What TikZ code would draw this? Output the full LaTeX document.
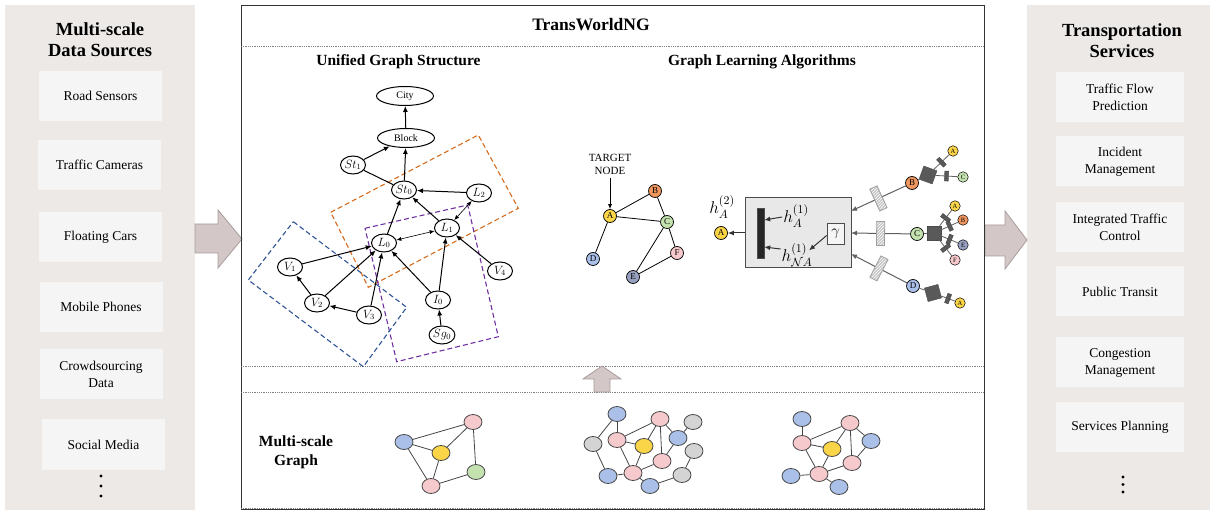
\RequirePackage{fix-cm}
\documentclass[tikz,border=0pt]{standalone}
\usepackage{fontspec}
\setmainfont{Liberation Serif}
\usepackage{amsmath}
\usetikzlibrary{shapes.geometric,arrows.meta,patterns}

\definecolor{panelgray}{RGB}{236,233,231}
\definecolor{boxgray}{RGB}{246,245,245}
\definecolor{arrowfill}{RGB}{211,200,199}
\definecolor{arrowline}{RGB}{168,157,156}
\definecolor{dashorange}{RGB}{214,108,30}
\definecolor{dashpurple}{RGB}{112,48,160}
\definecolor{dashblue}{RGB}{47,85,151}
\definecolor{ndyellow}{RGB}{250,213,72}
\definecolor{ndorange}{RGB}{240,150,95}
\definecolor{ndgreen}{RGB}{196,226,176}
\definecolor{ndblue}{RGB}{170,192,232}
\definecolor{ndslate}{RGB}{152,160,192}
\definecolor{ndpink}{RGB}{246,202,204}
\definecolor{ndgray}{RGB}{212,212,212}

\tikzset{
	panelbox/.style={fill=boxgray, minimum width=123, minimum height=50, align=center, font=\fontsize{13.5}{17}\selectfont},
	heading/.style={font=\bfseries\fontsize{18.5}{21}\selectfont, align=center},
	subhead/.style={font=\bfseries\fontsize{15.5}{19}\selectfont, align=center},
	blockarrow/.style={fill=arrowfill, draw=arrowline, line width=0.8pt},
	sepline/.style={densely dotted, gray, line width=0.8pt},
	ugbig/.style={ellipse, draw, fill=white, line width=1pt, minimum width=57, minimum height=19, inner sep=0pt, font=\fontsize{10}{12}\selectfont},
	ugnode/.style={ellipse, draw, fill=white, line width=1pt, minimum width=25, minimum height=18, inner sep=0pt, font=\fontsize{12}{13}\selectfont},
	ugedge/.style={line width=1pt, -{Latex[length=6pt,width=5pt]}},
	ugboth/.style={line width=0.6pt, {Latex[length=5pt,width=4pt]}-{Latex[length=5pt,width=4pt]}},
	region/.style={dash pattern=on 5pt off 3pt, line width=1.1pt},
	gnode/.style={circle, draw, line width=0.7pt, minimum size=13, inner sep=0pt, font=\fontsize{9}{10}\selectfont},
	leaf/.style={circle, draw, line width=0.5pt, minimum size=10.5, inner sep=0pt, font=\fontsize{6.5}{7}\selectfont},
	gline/.style={draw=gray!75!black, line width=0.8pt},
	feed/.style={draw=gray!75!black, line width=1pt, -{Latex[length=6pt,width=5pt]}},
	hline/.style={draw=black!80, line width=1pt, -{Latex[length=6pt,width=5pt]}},
	hatchbar/.style={draw=gray!75, line width=0.8pt, minimum width=8, minimum height=24, inner sep=0pt, preaction={fill=gray!45}, pattern=north east lines, pattern color=white},
	tinybar/.style={fill=gray!70!black, draw=gray!50!black, line width=0.3pt, minimum width=4, minimum height=10, inner sep=0pt},
	aggsquare/.style={fill=gray!70!black, draw=gray!60!black, minimum size=14, inner sep=0pt},
	hlabel/.style={font=\fontsize{17}{19}\selectfont, inner sep=1pt},
	sgnode/.style={ellipse, draw=gray!55!black, line width=0.8pt, minimum width=18, minimum height=15, inner sep=0pt},
	sgedge/.style={draw=gray!55!black, line width=0.8pt},
}

\begin{document}
\begin{tikzpicture}[x=1pt, y=-1pt]

	\useasboundingbox (0,0) rectangle (1213,510);

	\fill[panelgray] (5,5) rectangle (195,510);
	\fill[panelgray] (1027,5) rectangle (1210,510);

	\node[heading] (srchead) at (100,40) {Multi-scale\\Data Sources};
	\node[panelbox] (road) at (100.5,96) {Road Sensors};
	\node[panelbox] (camera) at (99.5,165) {Traffic Cameras};
	\node[panelbox] (floating) at (100.5,237.5) {Floating Cars};
	\node[panelbox] (mobile) at (101,307) {Mobile Phones};
	\node[panelbox] (crowd) at (101,374.5) {Crowdsourcing\\Data};
	\node[panelbox] (social) at (103.5,444.5) {Social Media};
	\foreach \dy in {476,486,496}
		\fill (101,\dy) circle (1.7);

	\node[heading] (svchead) at (1122,41) {Transportation\\Services};
	\node[panelbox, minimum width=128] (flow) at (1120,97.5) {Traffic Flow\\Prediction};
	\node[panelbox, minimum width=128] (incident) at (1120,161.5) {Incident\\Management};
	\node[panelbox, minimum width=128] (control) at (1120,227.5) {Integrated Traffic\\Control};
	\node[panelbox, minimum width=128] (transit) at (1120,291.5) {Public Transit};
	\node[panelbox, minimum width=128] (congestion) at (1120,362.5) {Congestion\\Management};
	\node[panelbox, minimum width=128] (planning) at (1120,427) {Services Planning};
	\foreach \dy in {477,484.5,492}
		\fill (1123,\dy) circle (1.7);

	\draw[blockarrow] (195,224) -- (218,224) -- (218,210) -- (242,239) -- (218,268) -- (218,253) -- (195,253) -- cycle;
	\draw[blockarrow] (985,225) -- (1005,225) -- (1005,211) -- (1027,240) -- (1005,269) -- (1005,256) -- (985,256) -- cycle;

	\draw[gray!40!black, line width=0.9pt] (241,5) rectangle (984,509);
	\draw[sepline] (241,46) -- (984,46);
	\draw[sepline] (241,366) -- (984,366);
	\draw[sepline] (241,392) -- (984,392);
	\draw[sepline] (241,508) -- (984,508);
	\draw[blockarrow] (594,392) -- (594,379) -- (583,379) -- (602,366) -- (621,379) -- (610,379) -- (610,392) -- cycle;

	\node[font=\bfseries\fontsize{17.5}{20}\selectfont] (title) at (591,25) {TransWorldNG};
	\node[subhead] (ughead) at (398.5,62) {Unified Graph Structure};
	\node[subhead] (glhead) at (762,62) {Graph Learning Algorithms};

	\draw[region, dashorange] (330.7,212.3) -- (478.3,135) -- (518.3,208.3) -- (368.3,287.3) -- cycle;
	\draw[region, dashpurple] (365,228.3) -- (467.7,205) -- (498.3,336.7) -- (396.7,361.7) -- cycle;
	\draw[region, dashblue] (293.3,221.7) -- (406.7,307.3) -- (363.3,366.7) -- (248.3,280) -- cycle;

	\node[ugbig] (city) at (405,96) {City};
	\node[ugbig] (block) at (406,138) {Block};
	\node[ugnode] (st1) at (353,165) {$St_1$};
	\node[ugnode] (st0) at (404,190) {$St_0$};
	\node[ugnode] (l2) at (479,193) {$L_2$};
	\node[ugnode] (l1) at (447,228) {$L_1$};
	\node[ugnode] (l0) at (384,243) {$L_0$};
	\node[ugnode] (v1) at (290,267) {$V_1$};
	\node[ugnode] (v2) at (317,303) {$V_2$};
	\node[ugnode] (v3) at (369,315) {$V_3$};
	\node[ugnode] (v4) at (500,271) {$V_4$};
	\node[ugnode] (i0) at (438,300) {$I_0$};
	\node[ugnode] (sg0) at (442,335) {$Sg_0$};

	\draw[ugedge] (block) -- (city);
	\draw[ugedge] (st1) -- (block);
	\draw[ugedge] (st0) -- (block);
	\draw[line width=1pt] (st1) -- (st0);
	\draw[ugedge] (l2) -- (st0);
	\draw[ugedge] (l1) -- (st0);
	\draw[ugedge] (l0) -- (st0);
	\draw[ugboth] (l1) -- (l2);
	\draw[ugboth] (l0) -- (l1);
	\draw[ugedge] (v1) -- (l0);
	\draw[ugedge] (v2) -- (v1);
	\draw[ugedge] (v2) -- (l0);
	\draw[ugedge] (v3) -- (v2);
	\draw[ugedge] (v3) -- (l0);
	\draw[ugedge] (i0) -- (l0);
	\draw[ugedge] (i0) -- (l1);
	\draw[ugedge] (sg0) -- (i0);
	\draw[ugedge] (v4) -- (l1);

	\node[font=\fontsize{11}{13}\selectfont, align=center] (target) at (610,164) {TARGET\\NODE};
	\node[gnode, fill=ndyellow] (ga) at (610,216) {A};
	\node[gnode, fill=ndorange] (gbb) at (655,191) {B};
	\node[gnode, fill=ndgreen] (gcc) at (667,222) {C};
	\node[gnode, fill=ndblue] (gdd) at (593,259) {D};
	\node[gnode, fill=ndslate] (gee) at (633,277) {E};
	\node[gnode, fill=ndpink] (gff) at (677,253) {F};
	\draw[line width=0.8pt, -{Latex[length=5pt,width=4pt]}] (target) -- (ga);
	\draw[line width=0.8pt] (ga) -- (gbb);
	\draw[line width=0.8pt] (ga) -- (gcc);
	\draw[line width=0.8pt] (gbb) -- (gcc);
	\draw[line width=0.8pt] (ga) -- (gdd);
	\draw[line width=0.8pt] (gcc) -- (gee);
	\draw[line width=0.8pt] (gcc) -- (gff);
	\draw[line width=0.8pt] (gee) -- (gff);

	\node[draw=gray!60!black, fill=gray!18, line width=1pt, minimum width=106, minimum height=70] (gbox) at (798,233) {};
	\node[fill=black!85, draw=gray!60!black, minimum width=7, minimum height=50, inner sep=0pt] (bar) at (760.5,233) {};
	\node[draw=gray!60!black, fill=gray!8, line width=0.7pt, minimum width=17, minimum height=21, inner sep=0pt, font=\fontsize{15}{16}\selectfont] (gam) at (835.5,233.5) {$\gamma$};
	\node[hlabel] (ha1) at (796,216) {$h_A^{(1)}$};
	\node[hlabel] (hna1) at (797,255) {$h_{\mathcal{N}A}^{(1)}$};
	\node[hlabel] (ha2) at (722,207) {$h_A^{(2)}$};
	\node[gnode, fill=ndyellow] (aout) at (721,233) {A};
	\draw[hline] ([yshift=-1pt]ha1.west) -- ([yshift=13pt]bar.east);
	\draw[hline] ([yshift=6pt]hna1.west) -- ([yshift=-14pt]bar.east);
	\draw[hline] ([yshift=-2pt]gam.west) -- ([xshift=12pt,yshift=-8pt]hna1.north);
	\draw[hline] (gbox.west) -- (aout);

	\coordinate (inb) at (851,211);
	\coordinate (inc) at (851,233);
	\coordinate (ind) at (851,254);

	\node[gnode, fill=ndorange] (gb) at (912,183) {B};
	\node[aggsquare, rotate=-20] (sqb) at (928,175) {};
	\node[leaf, fill=ndyellow] (lba) at (953,151) {A};
	\node[leaf, fill=ndgreen] (lbc) at (963,177) {C};
	\draw[feed] (gb) -- node[hatchbar, sloped] {} (inb);
	\draw[gline] (gb) -- (sqb);
	\draw[gline] (sqb) -- node[tinybar, sloped] {} (lba);
	\draw[gline] (sqb) -- node[tinybar, sloped] {} (lbc);

	\node[gnode, fill=ndgreen] (gc) at (917,234) {C};
	\node[aggsquare] (sqc) at (934,233) {};
	\node[leaf, fill=ndyellow] (lca) at (955,206) {A};
	\node[leaf, fill=ndorange] (lcb) at (963,220) {B};
	\node[leaf, fill=ndslate] (lce) at (963,245) {E};
	\node[leaf, fill=ndpink] (lcf) at (955,260) {F};
	\draw[feed] (gc) -- node[hatchbar, sloped] {} (inc);
	\draw[gline] (gc) -- (sqc);
	\draw[gline] (sqc) -- node[tinybar, sloped] {} (lca);
	\draw[gline] (sqc) -- node[tinybar, sloped] {} (lcb);
	\draw[gline] (sqc) -- node[tinybar, sloped] {} (lce);
	\draw[gline] (sqc) -- node[tinybar, sloped] {} (lcf);

	\node[gnode, fill=ndblue] (gd) at (913,286) {D};
	\node[aggsquare, rotate=15] (sqd) at (933,293) {};
	\node[leaf, fill=ndyellow] (lda) at (960,303) {A};
	\draw[feed] (gd) -- node[hatchbar, sloped] {} (ind);
	\draw[gline] (gd) -- (sqd);
	\draw[gline] (sqd) -- node[tinybar, sloped] {} (lda);

	\node[subhead] (msg) at (296,452) {Multi-scale\\Graph};

	\node[sgnode, fill=ndpink] (m1) at (473,422) {};
	\node[sgnode, fill=ndblue] (m2) at (404,442) {};
	\node[sgnode, fill=ndyellow] (m3) at (441,453) {};
	\node[sgnode, fill=ndgreen] (m4) at (476,472) {};
	\node[sgnode, fill=ndpink] (m5) at (431,486) {};
	\foreach \a/\b in {m2/m1, m2/m3, m3/m1, m1/m4, m2/m5, m3/m5, m5/m4}
		\draw[sgedge] (\a) -- (\b);

	\node[sgnode, fill=ndblue] (a1) at (617,414) {};
	\node[sgnode, fill=ndgray] (a2) at (593,444) {};
	\node[sgnode, fill=ndpink] (a3) at (617,440) {};
	\node[sgnode, fill=ndpink] (a4) at (660,419) {};
	\node[sgnode, fill=ndyellow] (a5) at (644,446) {};
	\node[sgnode, fill=ndblue] (a6) at (678,438) {};
	\node[sgnode, fill=ndgray] (a7) at (693,422) {};
	\node[sgnode, fill=ndgray] (a8) at (694,451) {};
	\node[sgnode, fill=ndpink] (a9) at (662,461) {};
	\node[sgnode, fill=ndpink] (a10) at (633,473) {};
	\node[sgnode, fill=ndblue] (a11) at (608,476) {};
	\node[sgnode, fill=ndblue] (a12) at (650,486) {};
	\node[sgnode, fill=ndgray] (a13) at (682,475) {};
	\foreach \a/\b in {a2/a1, a1/a3, a3/a4, a3/a5, a5/a4, a4/a9, a4/a6, a6/a7, a6/a9, a8/a13, a3/a10, a5/a10, a10/a9, a2/a11, a11/a10, a10/a12, a12/a13}
		\draw[sgedge] (\a) -- (\b);

	\node[sgnode, fill=ndblue] (b1) at (802,419) {};
	\node[sgnode, fill=ndpink] (b2) at (802,443) {};
	\node[sgnode, fill=ndpink] (b3) at (850,423) {};
	\node[sgnode, fill=ndyellow] (b4) at (832,449) {};
	\node[sgnode, fill=ndblue] (b5) at (871,441) {};
	\node[sgnode, fill=ndpink] (b6) at (852,463) {};
	\node[sgnode, fill=ndpink] (b7) at (819,474) {};
	\node[sgnode, fill=ndblue] (b8) at (791,476) {};
	\node[sgnode, fill=ndblue] (b9) at (839,487) {};
	\foreach \a/\b in {b1/b2, b2/b3, b2/b4, b4/b3, b3/b5, b3/b6, b5/b6, b2/b7, b4/b7, b7/b6, b8/b7, b7/b9}
		\draw[sgedge] (\a) -- (\b);

\end{tikzpicture}
\end{document}
